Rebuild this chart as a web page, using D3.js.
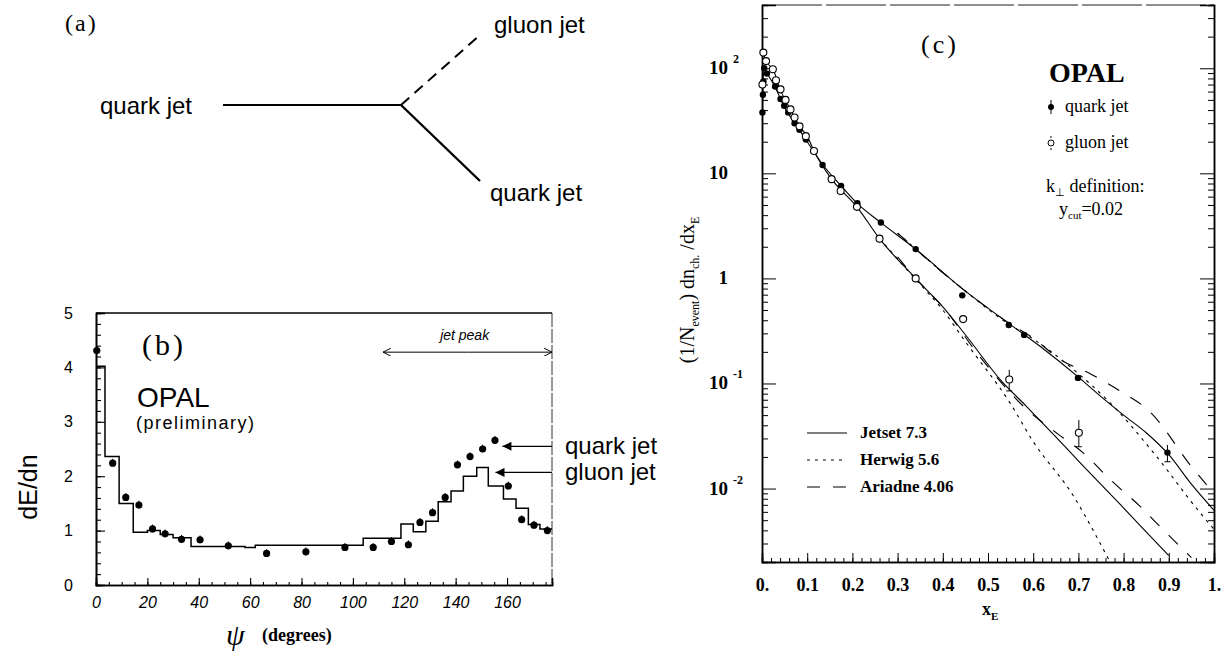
<!DOCTYPE html>
<html><head><meta charset="utf-8">
<script src="https://cdn.jsdelivr.net/npm/d3@7"></script>
<style>body{margin:0;background:#fff}svg{display:block}</style>
</head><body>
<svg id="fig" width="1230" height="657"></svg>
<script>
// ---------- panel (b) data ----------
const histEdges  = [0,3.5,9,14.5,20,25,30,37,58,62,104,118.7,123.5,128.4,133.2,138.2,143,148.2,152.7,158.6,163.5,168.3,172.8,177.5];
const histValues = [4.02,2.36,1.5,0.97,1.0,0.93,0.87,0.71,0.69,0.73,0.86,1.12,0.98,1.17,1.53,1.73,2.0,2.16,1.82,1.58,1.41,1.11,1.03];
const quarkPsi = [0.3,6.5,11.6,16.7,22.0,26.9,33.3,40.5,51.5,66.4,81.7,96.9,107.9,115,121.6,126.1,131,135.9,140.7,145.6,150.5,155.3,160.5,165.7,170.5,175.7];
const quarkDE  = [4.31,2.24,1.61,1.47,1.03,0.94,0.84,0.83,0.72,0.58,0.61,0.69,0.69,0.80,0.74,1.15,1.33,1.61,2.21,2.36,2.5,2.66,1.82,1.2,1.1,1.0];
const bXTicks = [0,20,40,60,80,100,120,140,160];
const bYTicks = [0,1,2,3,4,5];

// ---------- panel (c) data ----------
const quarkXE = [0.001,0.002,0.003,0.005,0.011,0.029,0.041,0.049,0.058,0.072,0.083,0.097,0.134,0.175,0.211,0.263,0.34,0.443,0.546,0.58,0.699,0.897];
const quarkN  = [38,56,75,100,89,67,51,44,38,30,26,21,12,7.6,5.2,3.4,1.9,0.69,0.36,0.29,0.113,0.022];
const gluonXE = [0.001,0.003,0.009,0.024,0.031,0.041,0.052,0.063,0.072,0.083,0.097,0.115,0.154,0.174,0.21,0.26,0.34,0.445,0.547,0.701];
const gluonN  = [70,141,117,98,77,63,50,40.6,34,28,22.6,16.3,8.8,6.8,4.8,2.39,1.0,0.41,0.109,0.034];
const errXE = [0.547,0.701,0.897];
const errLo = [0.085,0.025,0.018];
const errHi = [0.135,0.045,0.026];

const jetsetQX = [0.001,0.004,0.012,0.03,0.05,0.075,0.1,0.135,0.175,0.21,0.263,0.34,0.443,0.549,0.615,0.7,0.75,0.8,0.85,0.9,0.95,1.0];
const jetsetQY = [38,100,88,65,42,29,20,12,7.6,5.2,3.4,1.9,0.80,0.365,0.226,0.115,0.075,0.05,0.034,0.021,0.011,0.0062];
const jetsetGX = [0.002,0.01,0.025,0.04,0.063,0.083,0.1,0.115,0.154,0.21,0.26,0.342,0.401,0.453,0.527,0.586,0.65,0.704,0.792,0.881,0.9];
const jetsetGY = [141,115,97,63,40.6,28,22.6,16.3,8.8,4.8,2.39,0.98,0.53,0.28,0.109,0.060,0.031,0.0176,0.0071,0.0028,0.0023];
const herwigQX = [0.3,0.443,0.549,0.586,0.689,0.777,0.866,0.969,1.0];
const herwigQY = [2.7,0.80,0.36,0.29,0.136,0.061,0.022,0.0059,0.0041];
const herwigGX = [0.26,0.34,0.4,0.453,0.549,0.6,0.689,0.74,0.77];
const herwigGY = [2.39,0.98,0.5,0.24,0.065,0.028,0.0085,0.0035,0.002];
const ariadneQX = [0.3,0.443,0.549,0.6,0.659,0.729,0.792,0.858,0.951,1.0];
const ariadneQY = [2.7,0.80,0.37,0.27,0.17,0.122,0.085,0.054,0.016,0.009];
const ariadneGX = [0.3,0.342,0.401,0.482,0.585,0.655,0.71,0.77,0.836,0.884,0.95];
const ariadneGY = [1.6,0.98,0.53,0.18,0.057,0.033,0.022,0.0122,0.0068,0.0042,0.0022];
const cXTicks = [0,0.1,0.2,0.3,0.4,0.5,0.6,0.7,0.8,0.9,1.0];
const cXTickLabels = ["0.","0.1","0.2","0.3","0.4","0.5","0.6","0.7","0.8","0.9","1."];
const cYDecades = [0.01,0.1,1,10,100];
const cYBase = ["10","10","1","10","10"];
const cYExp  = ["-2","-1","","","2"];

const SANS = "'Liberation Sans', Arial, sans-serif";
const SERIF = "'Liberation Serif', 'Times New Roman', serif";
const svg = d3.select("#fig");
svg.append("rect").attr("width",1230).attr("height",657).attr("fill","#fff");

const defs = svg.append("defs");
defs.append("marker").attr("id","arrF").attr("viewBox","0 0 10 10").attr("refX",10).attr("refY",5)
  .attr("markerWidth",18).attr("markerHeight",9).attr("markerUnits","userSpaceOnUse").attr("orient","auto")
  .append("path").attr("d","M0,0L10,5L0,10Z").attr("fill","#000");
defs.append("marker").attr("id","arrO").attr("viewBox","0 0 10 10").attr("refX",10).attr("refY",5)
  .attr("markerWidth",8).attr("markerHeight",8).attr("markerUnits","userSpaceOnUse").attr("orient","auto")
  .append("path").attr("d","M0,0L10,5L0,10").attr("fill","none").attr("stroke","#000").attr("stroke-width",1.2);

// ================= panel (a) =================
const ga = svg.append("g");
ga.append("text").attr("x",65).attr("y",31).attr("font-family",SERIF).attr("font-size",24).attr("letter-spacing",2).text("(a)");
ga.append("line").attr("x1",223).attr("y1",105).attr("x2",401).attr("y2",105).attr("stroke","#000").attr("stroke-width",2.2);
ga.append("line").attr("x1",401).attr("y1",105).attr("x2",480).attr("y2",35).attr("stroke","#000").attr("stroke-width",2).attr("stroke-dasharray","11,7");
ga.append("line").attr("x1",401).attr("y1",105).attr("x2",480).attr("y2",181).attr("stroke","#000").attr("stroke-width",2.4);
ga.append("text").attr("x",192).attr("y",114).attr("text-anchor","end").attr("font-family",SANS).attr("font-size",24).text("quark jet");
ga.append("text").attr("x",494).attr("y",33).attr("font-family",SANS).attr("font-size",24).text("gluon jet");
ga.append("text").attr("x",490).attr("y",201).attr("font-family",SANS).attr("font-size",24).text("quark jet");

// ================= panel (b) =================
const xB = d3.scaleLinear().domain([0,177.5]).range([96,552]);
const yB = d3.scaleLinear().domain([0,5]).range([585,313]);
const gb = svg.append("g");
gb.append("line").attr("x1",xB(0)).attr("x2",xB(177.5)).attr("y1",yB(5)).attr("y2",yB(5)).attr("stroke","#000").attr("stroke-width",1.4);
gb.append("line").attr("x1",xB(177.5)).attr("x2",xB(177.5)).attr("y1",yB(5)).attr("y2",yB(0)).attr("stroke","#333").attr("stroke-width",1).attr("stroke-dasharray","14,2");
const axLb = gb.append("g").attr("transform",`translate(${xB(0)},0)`)
  .call(d3.axisLeft(yB).tickValues(bYTicks).tickSize(-9).tickPadding(23).tickFormat(d3.format("d")));
gb.append("g").attr("transform",`translate(${xB(0)},0)`)
  .call(d3.axisLeft(yB).tickValues(d3.range(0,5.01,0.2)).tickSize(-5).tickFormat(""));
const axBb = gb.append("g").attr("transform",`translate(0,${yB(0)})`)
  .call(d3.axisBottom(xB).tickValues(bXTicks).tickSize(-7).tickPadding(12).tickFormat(d3.format("d")));
gb.append("g").attr("transform",`translate(0,${yB(0)})`)
  .call(d3.axisBottom(xB).tickValues(d3.range(0,177,5)).tickSize(-3).tickFormat(""));
gb.selectAll(".domain").attr("stroke-width",1.6).attr("stroke","#000");
gb.selectAll(".tick line").attr("stroke","#000").attr("stroke-width",1.1);
axLb.selectAll("text").attr("font-family",SANS).attr("font-size",16);
axBb.selectAll("text").attr("font-family",SANS).attr("font-size",16).attr("font-style","italic");
const histPts = histValues.map((v,i)=>[histEdges[i],v]);
histPts.push([histEdges[histEdges.length-1],histValues[histValues.length-1]]);
gb.append("path").attr("d",d3.line().x(d=>xB(d[0])).y(d=>yB(d[1])).curve(d3.curveStepAfter)(histPts))
  .attr("fill","none").attr("stroke","#000").attr("stroke-width",1.5);
quarkPsi.forEach((p,i)=>{
  gb.append("line").attr("x1",xB(p)).attr("x2",xB(p)).attr("y1",yB(quarkDE[i]-0.06)).attr("y2",yB(quarkDE[i]+0.08)).attr("stroke","#000").attr("stroke-width",1);
  gb.append("circle").attr("cx",xB(p)).attr("cy",yB(quarkDE[i])).attr("r",3.6).attr("fill","#000");
});
gb.append("line").attr("x1",xB(177.5)).attr("x2",xB(158.2)).attr("y1",yB(2.55)).attr("y2",yB(2.55)).attr("stroke","#000").attr("stroke-width",1.2).attr("marker-end","url(#arrF)");
gb.append("line").attr("x1",xB(177.5)).attr("x2",xB(155.5)).attr("y1",yB(2.07)).attr("y2",yB(2.07)).attr("stroke","#000").attr("stroke-width",1.2).attr("marker-end","url(#arrF)");
gb.append("text").attr("x",xB(177.5)+13).attr("y",yB(2.55)+8).attr("font-family",SANS).attr("font-size",24).text("quark jet");
gb.append("text").attr("x",xB(177.5)+13).attr("y",yB(2.07)+8).attr("font-family",SANS).attr("font-size",24).text("gluon jet");
gb.append("line").attr("x1",xB(145)).attr("x2",xB(111.7)).attr("y1",yB(4.28)).attr("y2",yB(4.28)).attr("stroke","#000").attr("stroke-width",1).attr("marker-end","url(#arrO)");
gb.append("line").attr("x1",xB(145)).attr("x2",xB(177.5)).attr("y1",yB(4.28)).attr("y2",yB(4.28)).attr("stroke","#000").attr("stroke-width",1).attr("marker-end","url(#arrO)");
gb.append("text").attr("x",xB(143.5)).attr("y",yB(4.5)).attr("text-anchor","middle").attr("font-family",SANS).attr("font-size",14).attr("font-style","italic").text("jet peak");
gb.append("text").attr("x",142).attr("y",355).attr("font-family",SERIF).attr("font-size",30).attr("letter-spacing",3).text("(b)");
gb.append("text").attr("x",137).attr("y",407).attr("font-family",SANS).attr("font-size",28).attr("font-weight",300).text("OPAL");
gb.append("text").attr("x",136).attr("y",429).attr("font-family",SANS).attr("font-size",18).attr("letter-spacing",1.5).attr("font-weight",300).text("(preliminary)");
gb.append("text").attr("transform","translate(37,487) rotate(-90)").attr("text-anchor","middle").attr("font-family",SANS).attr("font-size",25).text("dE/dn");
gb.append("text").attr("x",226).attr("y",645).attr("font-family",SERIF).attr("font-size",30).attr("font-style","italic").text("ψ");
gb.append("text").attr("x",262).attr("y",641).attr("font-family",SERIF).attr("font-size",18).attr("font-weight","bold").text("(degrees)");

// ================= panel (c) =================
const xC = d3.scaleLinear().domain([0,1]).range([762,1214]);
const yC = d3.scaleLog().domain([0.002,400]).range([562,5]);
const gc = svg.append("g");
gc.append("clipPath").attr("id","clipC").append("rect").attr("x",xC(0)).attr("y",yC(400)).attr("width",xC(1)-xC(0)).attr("height",yC(0.002)-yC(400));
gc.append("line").attr("x1",xC(0)).attr("x2",xC(1)).attr("y1",yC(400)).attr("y2",yC(400)).attr("stroke","#222").attr("stroke-width",1.1).attr("stroke-dasharray","60,4");
const minorC = [];
[0.001,0.01,0.1,1,10,100].forEach(d=>{for(let k=2;k<=9;k++){const v=d*k; if(v>=0.002&&v<=400) minorC.push(v);}});
gc.append("g").attr("transform",`translate(${xC(0)},0)`).call(d3.axisLeft(yC).tickValues(cYDecades).tickSize(-14).tickFormat(""));
gc.append("g").attr("transform",`translate(${xC(0)},0)`).call(d3.axisLeft(yC).tickValues(minorC).tickSize(-6).tickFormat(""));
gc.append("g").attr("transform",`translate(${xC(1)},0)`).call(d3.axisRight(yC).tickValues(cYDecades).tickSize(-14).tickFormat(""));
gc.append("g").attr("transform",`translate(${xC(1)},0)`).call(d3.axisRight(yC).tickValues(minorC).tickSize(-6).tickFormat(""));
const axBc = gc.append("g").attr("transform",`translate(0,${yC(0.002)})`)
  .call(d3.axisBottom(xC).tickValues(cXTicks).tickSize(-9).tickPadding(16).tickFormat((d,i)=>cXTickLabels[i]));
gc.append("g").attr("transform",`translate(0,${yC(0.002)})`).call(d3.axisBottom(xC).tickValues(d3.range(0,1.001,0.02)).tickSize(-4).tickFormat(""));
gc.selectAll(".domain").attr("stroke","#000").attr("stroke-width",1.5);
gc.selectAll(".tick line").attr("stroke","#000").attr("stroke-width",1);
axBc.selectAll("text").attr("font-family",SERIF).attr("font-size",18).attr("font-weight","bold");
cYDecades.forEach((v,i)=>{
  gc.append("text").attr("x",728).attr("y",yC(v)+6).attr("text-anchor","end").attr("font-family",SERIF).attr("font-size",19).attr("font-weight","bold").text(cYBase[i]);
  if(cYExp[i]) gc.append("text").attr("x",733).attr("y",yC(v)-5).attr("font-family",SERIF).attr("font-size",12).attr("font-weight","bold").text(cYExp[i]);
});
const lineC = d3.line().x(d=>xC(d[0])).y(d=>yC(d[1])).curve(d3.curveMonotoneX);
const curves = [
  [jetsetQX,jetsetQY,null],[jetsetGX,jetsetGY,null],
  [herwigQX,herwigQY,"3,5"],[herwigGX,herwigGY,"3,5"],
  [ariadneQX,ariadneQY,"13,13"],[ariadneGX,ariadneGY,"13,13"]];
const gCurves = gc.append("g").attr("clip-path","url(#clipC)");
curves.forEach(([xs,ys,dash])=>{
  gCurves.append("path").attr("d",lineC(xs.map((x,i)=>[x,ys[i]])))
    .attr("fill","none").attr("stroke","#000").attr("stroke-width",1.1).attr("stroke-dasharray",dash);
});
errXE.forEach((x,i)=>{
  gc.append("line").attr("x1",xC(x)).attr("x2",xC(x)).attr("y1",yC(errLo[i])).attr("y2",yC(errHi[i])).attr("stroke","#000").attr("stroke-width",1);
  gc.append("line").attr("x1",xC(x)-3).attr("x2",xC(x)+3).attr("y1",yC(errLo[i])).attr("y2",yC(errLo[i])).attr("stroke","#000");
});
const gPts = gc.append("g");
quarkXE.forEach((x,i)=>gPts.append("circle").attr("cx",xC(x)).attr("cy",yC(quarkN[i])).attr("r",3.2).attr("fill","#000"));
gluonXE.forEach((x,i)=>gPts.append("circle").attr("cx",xC(x)).attr("cy",yC(gluonN[i])).attr("r",3.5).attr("fill","#fff").attr("stroke","#000").attr("stroke-width",1.1));
gc.append("text").attr("x",921).attr("y",53).attr("font-family",SERIF).attr("font-size",26).attr("letter-spacing",3).text("(c)");
gc.append("text").attr("x",1049).attr("y",82).attr("font-family",SERIF).attr("font-size",28).attr("font-weight","bold").text("OPAL");
gc.append("line").attr("x1",1051).attr("x2",1051).attr("y1",100).attr("y2",114).attr("stroke","#000");
gc.append("circle").attr("cx",1051).attr("cy",107).attr("r",3).attr("fill","#000");
gc.append("text").attr("x",1065).attr("y",112).attr("font-family",SERIF).attr("font-size",18).text("quark jet");
gc.append("line").attr("x1",1051).attr("x2",1051).attr("y1",136).attr("y2",151).attr("stroke","#000").attr("stroke-dasharray","2,2");
gc.append("circle").attr("cx",1051).attr("cy",143).attr("r",3).attr("fill","#fff").attr("stroke","#000");
gc.append("text").attr("x",1065).attr("y",148).attr("font-family",SERIF).attr("font-size",18).text("gluon jet");
const kt = gc.append("text").attr("x",1046).attr("y",192).attr("font-family",SERIF).attr("font-size",18);
kt.append("tspan").text("k");
kt.append("tspan").attr("dy",4).attr("font-size",11).text("⊥");
kt.append("tspan").attr("dy",-4).text(" definition:");
const yc = gc.append("text").attr("x",1059).attr("y",215).attr("font-family",SERIF).attr("font-size",18);
yc.append("tspan").text("y");
yc.append("tspan").attr("dy",4).attr("font-size",11).text("cut");
yc.append("tspan").attr("dy",-4).text("=0.02");
const legC = [["Jetset 7.3",null],["Herwig 5.6","3,5"],["Ariadne 4.06","13,13"]];
legC.forEach(([t,dash],i)=>{
  const y = 433 + i*27;
  gc.append("line").attr("x1",807).attr("x2",847).attr("y1",y).attr("y2",y).attr("stroke","#000").attr("stroke-width",1.1).attr("stroke-dasharray",dash);
  gc.append("text").attr("x",860).attr("y",y+5).attr("font-family",SERIF).attr("font-size",17).attr("font-weight","bold").text(t);
});
const xl = gc.append("text").attr("x",982).attr("y",615).attr("font-family",SERIF).attr("font-size",18).attr("font-weight","bold");
xl.append("tspan").text("x");
xl.append("tspan").attr("dy",5).attr("font-size",11).text("E");
const yl = gc.append("text").attr("transform","translate(694,290) rotate(-90)").attr("text-anchor","middle").attr("font-family",SERIF).attr("font-size",20);
yl.append("tspan").text("(1/N");
yl.append("tspan").attr("dy",5).attr("font-size",12).text("event");
yl.append("tspan").attr("dy",-5).text(") dn");
yl.append("tspan").attr("dy",5).attr("font-size",12).text("ch.");
yl.append("tspan").attr("dy",-5).text(" /dx");
yl.append("tspan").attr("dy",5).attr("font-size",12).text("E");
</script>
</body></html>
